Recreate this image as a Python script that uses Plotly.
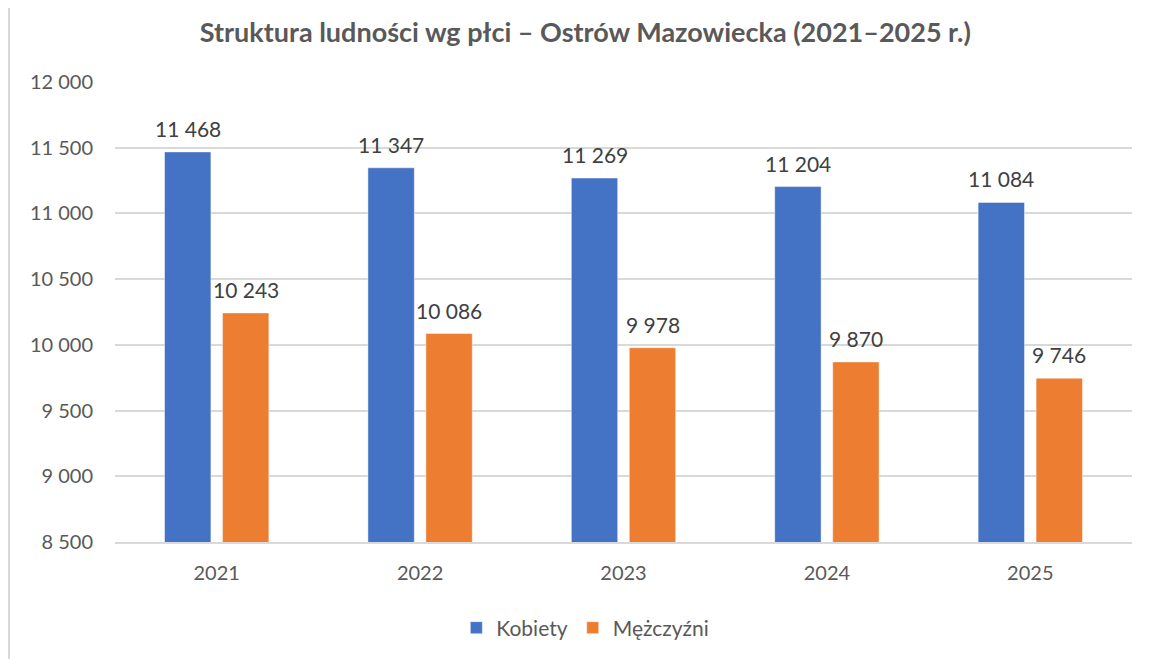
import plotly.graph_objects as go

years = ["2021", "2022", "2023", "2024", "2025"]
kobiety = [11468, 11347, 11269, 11204, 11084]
mezczyzni = [10243, 10086, 9978, 9870, 9746]
series_names = ["Kobiety", "Mężczyźni"]
tick_vals = [8500, 9000, 9500, 10000, 10500, 11000, 11500, 12000]

FONT = "Lato"
W, H = 1157, 659
ML, MR, MT, MB = 107, 33, 74, 125
fig = go.Figure()
series = [(series_names[0], kobiety, "#4472C4", -29), (series_names[1], mezczyzni, "#ED7D31", 29)]
annotations = []
for name, vals, col, xs in series:
    fig.add_trace(go.Bar(
        x=years, y=vals, name=name,
        marker=dict(color=col, line=dict(color="rgba(255,255,255,0.45)", width=1)),
    ))
    for i, v in enumerate(vals):
        annotations.append(dict(
            x=i, y=v, xref="x", yref="y", text=f"{v:,}".replace(",", " "),
            showarrow=False, xshift=xs, yshift=9, yanchor="bottom", xanchor="center",
            font=dict(size=21, color="#404040", family=FONT)))

fig.update_layout(
    width=W, height=H,
    separators=", ",
    paper_bgcolor="white", plot_bgcolor="white",
    margin=dict(l=ML, r=MR, t=MT, b=MB, autoexpand=False),
    barmode="group", bargap=0.43, bargroupgap=0.2,
    title=dict(text="<b>Struktura ludności wg płci – Ostrów Mazowiecka (2021–2025 r.)</b>",
               x=0.499, xref="container", y=1 - 25 / H, yref="container",
               xanchor="center", yanchor="middle",
               font=dict(size=27, color="#595959", family=FONT)),
    font=dict(family=FONT, color="#595959", size=20),
    legend=dict(orientation="h", x=0.499, xref="container", xanchor="center",
                y=-0.187, yanchor="middle", font=dict(size=21, color="#595959"),
                traceorder="normal"),
    yaxis=dict(range=[8500, 12000], tickvals=tick_vals, tickformat=",d",
               showgrid=True, gridcolor="#D9D9D9", gridwidth=1.5, automargin=False,
               zeroline=False, ticks="outside", ticklen=17, tickcolor="rgba(0,0,0,0)",
               tickfont=dict(size=20, color="#595959")),
    xaxis=dict(type="category", showline=True, linecolor="#D9D9D9", linewidth=1.5,
               automargin=False,
               ticks="outside", ticklen=12, tickcolor="rgba(0,0,0,0)",
               tickfont=dict(size=20, color="#595959")),
    annotations=annotations,
    shapes=[dict(type="line", xref="paper", yref="paper",
                 x0=(1 - ML) / (W - ML - MR), x1=(1 - ML) / (W - ML - MR), y0=-0.4, y1=1.3,
                 line=dict(color="#D9D9D9", width=2))],
)

fig.write_html("out.html")
